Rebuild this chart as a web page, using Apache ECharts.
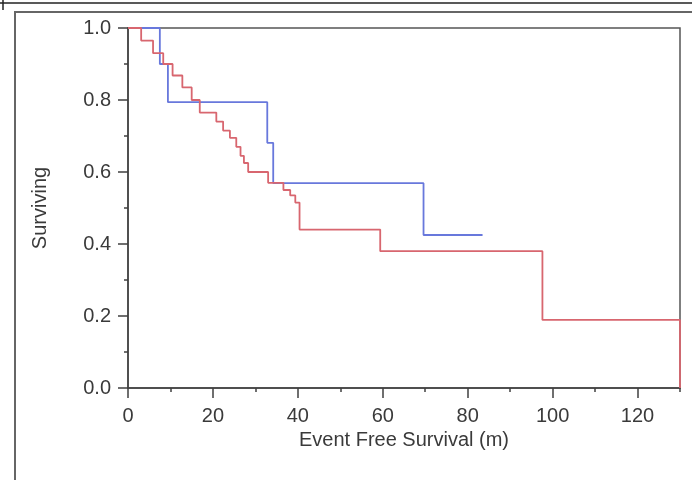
<!DOCTYPE html>
<html lang="en">
<head>
  <meta charset="UTF-8">
  <title>Event Free Survival</title>
  <style>
    html, body { margin: 0; padding: 0; background: #fff; }
    #myEcharts { width: 692px; height: 480px; }
  </style>
  <script src="https://cdn.jsdelivr.net/npm/echarts@6/dist/echarts.min.js"></script>
</head>
<body>
  <div id="myEcharts"></div>
  <script>
    // blue group: event times (months) and survival after each step
    var blueTimes = [0, 7.5, 9.4, 32.8, 34.2, 69.6, 83.5];
    var blueSurv  = [1.0, 0.9, 0.794, 0.681, 0.569, 0.425, 0.425];

    // red group
    var redTimes = [0, 3.1, 5.9, 8.3, 10.5, 12.8, 15.0, 16.9, 20.8, 22.4, 24.0, 25.5,
                    26.5, 27.3, 28.3, 33.0, 36.6, 38.2, 39.4, 40.4, 59.4, 97.6, 130];
    var redSurv  = [1.0, 0.965, 0.93, 0.9, 0.868, 0.835, 0.8, 0.765, 0.74, 0.715, 0.695, 0.67,
                    0.645, 0.625, 0.6, 0.57, 0.55, 0.535, 0.515, 0.44, 0.38, 0.189, 0];

    var xTicks = [0, 20, 40, 60, 80, 100, 120];

    function pairs(ts, ss) {
      var out = [];
      for (var i = 0; i < ts.length; i++) out.push([ts[i], ss[i]]);
      return out;
    }

    var textColor = '#3a3a3a';
    var axisColor = '#404040';
    var fontFamily = '"Liberation Sans", Arial, sans-serif';
    var fontSize = 20;

    var myChart = echarts.init(document.getElementById('myEcharts'));

    option = {
      animation: false,
      backgroundColor: '#fff',
      grid: {
        left: 128, top: 28, right: 12, bottom: 92,
        containLabel: false,
        outerBoundsMode: 'none',
        show: true,
        borderColor: '#555',
        borderWidth: 1.5
      },
      xAxis: [{
        type: 'value',
        min: 0, max: 130, interval: 20,
        name: 'Event Free Survival (m)',
        nameLocation: 'middle',
        nameGap: 40,
        nameTextStyle: { color: textColor, fontSize: fontSize, fontFamily: fontFamily },
        axisLine: { show: true, lineStyle: { color: axisColor, width: 1.5 } },
        axisTick: { show: true, inside: false, length: 10, lineStyle: { color: axisColor, width: 1.5 } },
        axisLabel: {
          color: textColor, fontSize: fontSize, fontFamily: fontFamily, margin: 18,
          showMaxLabel: false,
          formatter: function (v) { return xTicks.indexOf(v) >= 0 ? String(v) : ''; }
        },
        splitLine: { show: false }
      }, {
        // minor ticks every 10 months
        type: 'value',
        position: 'bottom',
        min: 0, max: 130, interval: 10,
        axisLine: { show: false },
        axisTick: { show: true, length: 4, lineStyle: { color: axisColor, width: 1.5 } },
        axisLabel: { show: false },
        splitLine: { show: false }
      }],
      yAxis: {
        type: 'value',
        min: 0, max: 1, interval: 0.2,
        name: 'Surviving',
        nameLocation: 'middle',
        nameGap: 78,
        nameTextStyle: { color: textColor, fontSize: fontSize, fontFamily: fontFamily },
        axisLine: { show: true, lineStyle: { color: axisColor, width: 1.5 } },
        axisTick: { show: true, length: 10, lineStyle: { color: axisColor, width: 1.5 } },
        minorTick: { show: true, splitNumber: 2, length: 4, lineStyle: { color: axisColor, width: 1.5 } },
        axisLabel: {
          color: textColor, fontSize: fontSize, fontFamily: fontFamily, margin: 17,
          formatter: function (v) { return v.toFixed(1); }
        },
        splitLine: { show: false }
      },
      graphic: [
        { type: 'line', shape: { x1: 0, y1: 3, x2: 692, y2: 3 }, style: { stroke: '#222', lineWidth: 1.5 } },
        { type: 'line', shape: { x1: 3, y1: 0, x2: 3, y2: 10 }, style: { stroke: '#222', lineWidth: 1.5 } },
        { type: 'polyline', shape: { points: [[15, 480], [15, 12], [692, 12]] }, style: { stroke: '#666', lineWidth: 2, fill: null } }
      ],
      series: [{
        name: 'blue',
        type: 'line',
        step: 'end',
        symbol: 'none',
        clip: false,
        lineStyle: { color: '#6878dc', width: 1.8 },
        data: pairs(blueTimes, blueSurv)
      }, {
        name: 'red',
        type: 'line',
        step: 'end',
        symbol: 'none',
        clip: false,
        lineStyle: { color: '#d8666f', width: 1.8 },
        data: pairs(redTimes, redSurv)
      }]
    };

    myChart.setOption(option);
  </script>
</body>
</html>
